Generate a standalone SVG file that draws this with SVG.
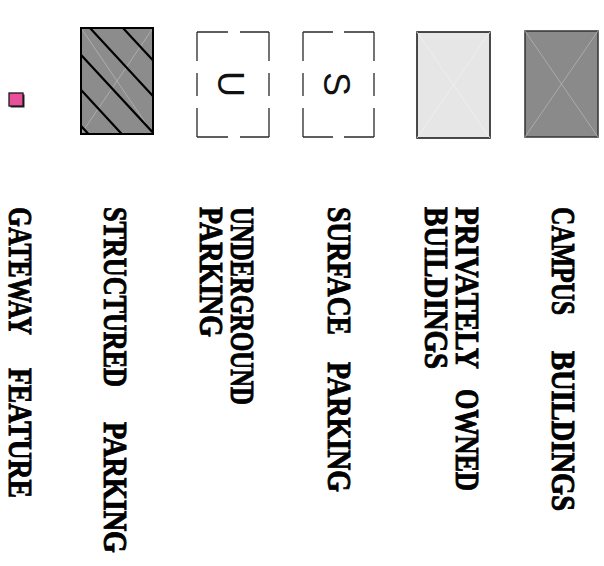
<svg xmlns="http://www.w3.org/2000/svg" width="604" height="566" viewBox="0 0 604 566">
<style>
.lbl{font-family:"Liberation Serif","Times New Roman",serif;font-weight:bold;font-size:25px;fill:#000;stroke:#000;stroke-width:0.7}
.sym{font-family:"Liberation Sans",Arial,sans-serif;font-size:36px;fill:#111;text-anchor:middle}
.dash{fill:none;stroke:#2a2a2a;stroke-width:1.3}
.hatch{stroke:#000;stroke-width:2.2}
</style>
<defs>
<clipPath id="clipS"><rect x="81" y="28" width="72" height="106"/></clipPath>
</defs>
<rect width="604" height="566" fill="#fff"/>
<g id="campus">
<rect x="525" y="31" width="73" height="106" fill="#8a8a8a" stroke="#333" stroke-width="1.5"/>
<path d="M525 31 L598 137 M598 31 L525 137" stroke="#b2b2b2" stroke-width="0.8"/>
<text class="lbl" transform="translate(552,0) rotate(90) scale(1,1.36)"><tspan x="207" textLength="108" lengthAdjust="spacingAndGlyphs">CAMPUS</tspan> <tspan x="351" textLength="160" lengthAdjust="spacingAndGlyphs">BUILDINGS</tspan></text>
</g>
<g id="private">
<rect x="417" y="32" width="73" height="106" fill="#e6e6e6" stroke="#111" stroke-width="1.5"/>
<path d="M417 32 L490 138 M490 32 L417 138" stroke="#f0f0f0" stroke-width="0.8"/>
<text class="lbl" transform="translate(456,0) rotate(90) scale(1,1.36)"><tspan x="207" textLength="162" lengthAdjust="spacingAndGlyphs">PRIVATELY</tspan> <tspan x="389" textLength="102" lengthAdjust="spacingAndGlyphs">OWNED</tspan></text>
<text class="lbl" transform="translate(425,0) rotate(90) scale(1,1.36)"><tspan x="207" textLength="162" lengthAdjust="spacingAndGlyphs">BUILDINGS</tspan></text>
</g>
<g id="surface">
<path class="dash" d="M303 32 H333 M344 32 H374 M303 137 H333 M344 137 H374 M303 32 V61 M303 73 V96 M303 108 V137 M374 32 V61 M374 73 V96 M374 108 V137"/>
<text class="sym" transform="translate(324,84) rotate(90)">S</text>
<text class="lbl" transform="translate(328,0) rotate(90) scale(1,1.36)"><tspan x="207" textLength="128" lengthAdjust="spacingAndGlyphs">SURFACE</tspan> <tspan x="362" textLength="130" lengthAdjust="spacingAndGlyphs">PARKING</tspan></text>
</g>
<g id="underground">
<path class="dash" d="M197 32 H228 M240 32 H269 M197 137 H228 M240 137 H269 M197 32 V61 M197 73 V96 M197 108 V137 M269 32 V61 M269 73 V96 M269 108 V137"/>
<text class="sym" transform="translate(218,84) rotate(90)">U</text>
<text class="lbl" transform="translate(231,0) rotate(90) scale(1,1.36)"><tspan x="207" textLength="198" lengthAdjust="spacingAndGlyphs">UNDERGROUND</tspan></text>
<text class="lbl" transform="translate(200,0) rotate(90) scale(1,1.36)"><tspan x="207" textLength="130" lengthAdjust="spacingAndGlyphs">PARKING</tspan></text>
</g>
<g id="structured">
<rect x="81" y="28" width="72" height="106" fill="#8c8c8c"/>
<path d="M81 28 L153 134 M153 28 L81 134" stroke="#b5b5b5" stroke-width="0.8"/>
<g clip-path="url(#clipS)">
<path class="hatch" d="M70 -29.2 L165 73.4 M70 6.4 L165 109 M70 43.1 L165 145.7 M70 78.1 L165 180.7 M70 114.1 L165 216.7"/>
</g>
<rect x="81" y="28" width="72" height="106" fill="none" stroke="#000" stroke-width="2"/>
<text class="lbl" transform="translate(104,0) rotate(90) scale(1,1.36)"><tspan x="207" textLength="180" lengthAdjust="spacingAndGlyphs">STRUCTURED</tspan> <tspan x="422" textLength="131" lengthAdjust="spacingAndGlyphs">PARKING</tspan></text>
</g>
<g id="gateway">
<rect x="10.5" y="94.5" width="14" height="13" fill="#222"/>
<rect x="9" y="93" width="14" height="13" fill="#e8509a" stroke="#1a1a1a" stroke-width="1.3"/>
<text class="lbl" transform="translate(9,0) rotate(90) scale(1,1.36)"><tspan x="207" textLength="128" lengthAdjust="spacingAndGlyphs">GATEWAY</tspan> <tspan x="368" textLength="130" lengthAdjust="spacingAndGlyphs">FEATURE</tspan></text>
</g>
<g id="connectors"></g>
</svg>
